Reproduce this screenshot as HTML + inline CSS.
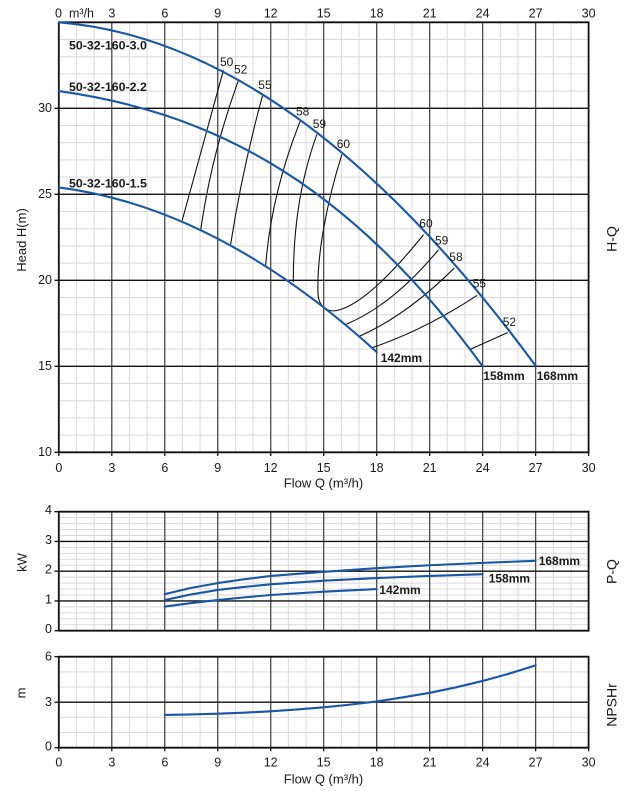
<!DOCTYPE html>
<html><head><meta charset="utf-8">
<style>
html,body{margin:0;padding:0;background:#fff;}
svg{display:block;}
g.d path{vector-effect:non-scaling-stroke;}
text{font-family:"Liberation Sans",Arial,sans-serif;fill:#1a1a1a;}
.t{font-size:12.5px;}
.e{font-size:12px;}
.b{font-size:12px;font-weight:bold;}
.m{font-size:12.4px;font-weight:bold;}
.ax{font-size:13px;}
.rt{font-size:14px;}
</style></head>
<body>
<svg width="628" height="791" viewBox="0 0 628 791" xmlns="http://www.w3.org/2000/svg">
<rect width="628" height="791" fill="#fff"/>

<!-- ================= MAIN H-Q CHART ================= -->
<g class="d" transform="matrix(17.66,0,0,-17.2,58.8,624.3)" fill="none">
<path stroke="#d9d9d9" stroke-width="1" d="M1,10V35M2,10V35M4,10V35M5,10V35M7,10V35M8,10V35M10,10V35M11,10V35M13,10V35M14,10V35M16,10V35M17,10V35M19,10V35M20,10V35M22,10V35M23,10V35M25,10V35M26,10V35M28,10V35M29,10V35M0,11H30M0,12H30M0,13H30M0,14H30M0,16H30M0,17H30M0,18H30M0,19H30M0,21H30M0,22H30M0,23H30M0,24H30M0,26H30M0,27H30M0,28H30M0,29H30M0,31H30M0,32H30M0,33H30M0,34H30"/>
<path stroke="#4a4a4a" stroke-width="1.3" d="M3,10V35M6,10V35M9,10V35M12,10V35M15,10V35M18,10V35M21,10V35M24,10V35M27,10V35"/>
<path stroke="#111" stroke-width="1.3" d="M0,15H30M0,20H30M0,25H30M0,30H30"/>
<path stroke="#111" stroke-width="1.8" d="M0,10H30V35H0Z"/>
</g>
<!-- ticks -->
<path stroke="#111" stroke-width="1.3" fill="none" d="M54.5,108.3H58.8M54.5,194.3H58.8M54.5,280.3H58.8M54.5,366.3H58.8M54.5,452.3H58.8M58.8,452.3V456M111.8,452.3V456M164.8,452.3V456M217.7,452.3V456M270.7,452.3V456M323.7,452.3V456M376.7,452.3V456M429.7,452.3V456M482.6,452.3V456M535.6,452.3V456M588.6,452.3V456"/>

<!-- efficiency lines -->
<g fill="none" stroke="#111" stroke-width="1.1" stroke-linejoin="round" stroke-linecap="round">
<path d="M223.3,70.7 Q202.5,145.5 182.3,220"/>
<path d="M238.3,80.7 Q211.5,154.6 200.7,230"/>
<path d="M262.7,95 Q242.3,169.5 230.7,244"/>
<path d="M300,121.7 Q271.5,193.4 265.7,265"/>
<path d="M316.7,135 C299,184 293.3,232.7 293.3,281.7"/>
<path d="M341.7,155 C327.5,200 316.5,255 318,294 C318.5,306 327,312.5 337,310.5 C362,305 395,270 423.3,235"/>
<path d="M438.3,250 Q392.5,305 346.7,324"/>
<path d="M454,268.3 Q407,315 360,336"/>
<path d="M476.7,295.7 Q425,329.5 373.3,347.3"/>
<path d="M507.3,332.7 L471,349"/>
</g>

<!-- blue H-Q curves -->
<g class="d" transform="matrix(17.66,0,0,-17.2,58.8,624.3)" fill="none" stroke="#1757a6" stroke-width="2.1" stroke-linecap="round">
<path d="M0,35 Q13.5,33.875 27,15.03"/>
<path d="M0,31 C8,29.845 16,26.29 24,15"/>
<path d="M0,25.4 Q9,24.225 18,15.83"/>
</g>

<!-- top axis labels -->
<text class="t" x="58.5" y="17.3" text-anchor="middle">0</text>
<text class="t" x="69" y="17.3">m³/h</text>
<text class="t" x="111.8" y="17.3" text-anchor="middle">3</text>
<text class="t" x="164.8" y="17.3" text-anchor="middle">6</text>
<text class="t" x="217.7" y="17.3" text-anchor="middle">9</text>
<text class="t" x="270.7" y="17.3" text-anchor="middle">12</text>
<text class="t" x="323.7" y="17.3" text-anchor="middle">15</text>
<text class="t" x="376.7" y="17.3" text-anchor="middle">18</text>
<text class="t" x="429.7" y="17.3" text-anchor="middle">21</text>
<text class="t" x="482.6" y="17.3" text-anchor="middle">24</text>
<text class="t" x="535.6" y="17.3" text-anchor="middle">27</text>
<text class="t" x="588.6" y="17.3" text-anchor="middle">30</text>

<!-- left y labels main -->
<text class="t" x="52" y="111.8" text-anchor="end">30</text>
<text class="t" x="52" y="197.8" text-anchor="end">25</text>
<text class="t" x="52" y="283.8" text-anchor="end">20</text>
<text class="t" x="52" y="369.8" text-anchor="end">15</text>
<text class="t" x="52" y="455.8" text-anchor="end">10</text>

<!-- bottom x labels main -->
<text class="t" x="58.8" y="472" text-anchor="middle">0</text>
<text class="t" x="111.8" y="472" text-anchor="middle">3</text>
<text class="t" x="164.8" y="472" text-anchor="middle">6</text>
<text class="t" x="217.7" y="472" text-anchor="middle">9</text>
<text class="t" x="270.7" y="472" text-anchor="middle">12</text>
<text class="t" x="323.7" y="472" text-anchor="middle">15</text>
<text class="t" x="376.7" y="472" text-anchor="middle">18</text>
<text class="t" x="429.7" y="472" text-anchor="middle">21</text>
<text class="t" x="482.6" y="472" text-anchor="middle">24</text>
<text class="t" x="535.6" y="472" text-anchor="middle">27</text>
<text class="t" x="588.6" y="472" text-anchor="middle">30</text>
<text class="ax" x="323.5" y="487.7" text-anchor="middle">Flow Q (m³/h)</text>

<text class="ax" transform="translate(26,240) rotate(-90)" text-anchor="middle">Head H(m)</text>
<text class="rt" transform="translate(616.5,239) rotate(-90)" text-anchor="middle">H-Q</text>

<!-- model labels -->
<text class="m" x="69" y="49.3">50-32-160-3.0</text>
<text class="m" x="69" y="91">50-32-160-2.2</text>
<text class="m" x="69" y="187.7">50-32-160-1.5</text>

<!-- efficiency labels -->
<text class="e" x="220" y="66">50</text>
<text class="e" x="234" y="73.3">52</text>
<text class="e" x="258.3" y="89">55</text>
<text class="e" x="296" y="115.3">58</text>
<text class="e" x="312.7" y="128">59</text>
<text class="e" x="336.7" y="148">60</text>
<text class="e" x="419.3" y="227.7">60</text>
<text class="e" x="435" y="244.3">59</text>
<text class="e" x="449.3" y="261">58</text>
<text class="e" x="472.7" y="287.7">55</text>
<text class="e" x="502.7" y="326">52</text>

<!-- diameter labels -->
<text class="b" x="380.7" y="362">142mm</text>
<text class="b" x="483.3" y="380">158mm</text>
<text class="b" x="536.7" y="380">168mm</text>

<!-- ================= P-Q CHART ================= -->
<g class="d" transform="matrix(17.66,0,0,-29.75,58.8,630.7)" fill="none">
<path stroke="#d9d9d9" stroke-width="1" d="M1,0V4M2,0V4M4,0V4M5,0V4M7,0V4M8,0V4M10,0V4M11,0V4M13,0V4M14,0V4M16,0V4M17,0V4M19,0V4M20,0V4M22,0V4M23,0V4M25,0V4M26,0V4M28,0V4M29,0V4M0,0.2H30M0,0.4H30M0,0.6H30M0,0.8H30M0,1.2H30M0,1.4H30M0,1.6H30M0,1.8H30M0,2.2H30M0,2.4H30M0,2.6H30M0,2.8H30M0,3.2H30M0,3.4H30M0,3.6H30M0,3.8H30"/>
<path stroke="#4a4a4a" stroke-width="1.3" d="M3,0V4M6,0V4M9,0V4M12,0V4M15,0V4M18,0V4M21,0V4M24,0V4M27,0V4"/>
<path stroke="#111" stroke-width="1.3" d="M0,1H30M0,2H30M0,3H30"/>
<path stroke="#111" stroke-width="1.8" d="M0,0H30V4H0Z"/>
<g stroke="#1757a6" stroke-width="2.1" stroke-linecap="round" stroke-linejoin="round">
<path d="M6,1.23 L7.5,1.44 L9,1.60 L10.5,1.73 L12,1.84 L15,1.98 L18,2.10 L21,2.20 L24,2.28 L27,2.35"/>
<path d="M6,1.03 L7.5,1.22 L9,1.37 L10.5,1.47 L12,1.56 L15,1.68 L18,1.77 L21,1.84 L24,1.90"/>
<path d="M6,0.81 L7.5,0.93 L9,1.03 L10.5,1.12 L12,1.20 L15,1.31 L18,1.40"/>
</g>
</g>
<path stroke="#111" stroke-width="1.3" fill="none" d="M54.5,511.7H58.8M54.5,541.45H58.8M54.5,571.2H58.8M54.5,600.95H58.8M54.5,630.7H58.8"/>
<text class="t" x="52" y="514" text-anchor="end">4</text>
<text class="t" x="52" y="543.8" text-anchor="end">3</text>
<text class="t" x="52" y="573.5" text-anchor="end">2</text>
<text class="t" x="52" y="603.3" text-anchor="end">1</text>
<text class="t" x="52" y="633" text-anchor="end">0</text>
<text class="ax" transform="translate(26.5,562.5) rotate(-90)" text-anchor="middle">kW</text>
<text class="rt" transform="translate(616.5,571.5) rotate(-90)" text-anchor="middle">P-Q</text>
<text class="b" x="538.7" y="565">168mm</text>
<text class="b" x="488.7" y="582.5">158mm</text>
<text class="b" x="379.3" y="594">142mm</text>

<!-- ================= NPSH CHART ================= -->
<g class="d" transform="matrix(17.66,0,0,-15.17,58.8,747.7)" fill="none">
<path stroke="#d9d9d9" stroke-width="1" d="M1,0V6M2,0V6M4,0V6M5,0V6M7,0V6M8,0V6M10,0V6M11,0V6M13,0V6M14,0V6M16,0V6M17,0V6M19,0V6M20,0V6M22,0V6M23,0V6M25,0V6M26,0V6M28,0V6M29,0V6M0,1H30M0,2H30M0,4H30M0,5H30"/>
<path stroke="#4a4a4a" stroke-width="1.3" d="M3,0V6M6,0V6M9,0V6M12,0V6M15,0V6M18,0V6M21,0V6M24,0V6M27,0V6"/>
<path stroke="#111" stroke-width="1.3" d="M0,3H30"/>
<path stroke="#111" stroke-width="1.8" d="M0,0H30V6H0Z"/>
<path stroke="#1757a6" stroke-width="2.1" stroke-linecap="round" stroke-linejoin="round" d="M6,2.16 L7.5,2.19 L9,2.24 L10.5,2.31 L12,2.40 L13.5,2.52 L15,2.66 L16.5,2.84 L18,3.05 L19.5,3.32 L21,3.62 L22.5,3.98 L24,4.40 L25.5,4.88 L27,5.43"/>
</g>
<path stroke="#111" stroke-width="1.3" fill="none" d="M54.5,656.7H58.8M54.5,702.2H58.8M54.5,747.7H58.8M58.8,747.7V751.3M111.8,747.7V751.3M164.8,747.7V751.3M217.7,747.7V751.3M270.7,747.7V751.3M323.7,747.7V751.3M376.7,747.7V751.3M429.7,747.7V751.3M482.6,747.7V751.3M535.6,747.7V751.3M588.6,747.7V751.3"/>
<text class="t" x="52" y="660.7" text-anchor="end">6</text>
<text class="t" x="52" y="706" text-anchor="end">3</text>
<text class="t" x="52" y="750.7" text-anchor="end">0</text>
<text class="t" x="58.8" y="766.7" text-anchor="middle">0</text>
<text class="t" x="111.8" y="766.7" text-anchor="middle">3</text>
<text class="t" x="164.8" y="766.7" text-anchor="middle">6</text>
<text class="t" x="217.7" y="766.7" text-anchor="middle">9</text>
<text class="t" x="270.7" y="766.7" text-anchor="middle">12</text>
<text class="t" x="323.7" y="766.7" text-anchor="middle">15</text>
<text class="t" x="376.7" y="766.7" text-anchor="middle">18</text>
<text class="t" x="429.7" y="766.7" text-anchor="middle">21</text>
<text class="t" x="482.6" y="766.7" text-anchor="middle">24</text>
<text class="t" x="535.6" y="766.7" text-anchor="middle">27</text>
<text class="t" x="588.6" y="766.7" text-anchor="middle">30</text>
<text class="ax" x="323.5" y="783.5" text-anchor="middle">Flow Q (m³/h)</text>
<text class="ax" transform="translate(25.5,693) rotate(-90)" text-anchor="middle">m</text>
<text class="rt" transform="translate(616.5,705) rotate(-90)" text-anchor="middle">NPSHr</text>
</svg>
</body></html>
